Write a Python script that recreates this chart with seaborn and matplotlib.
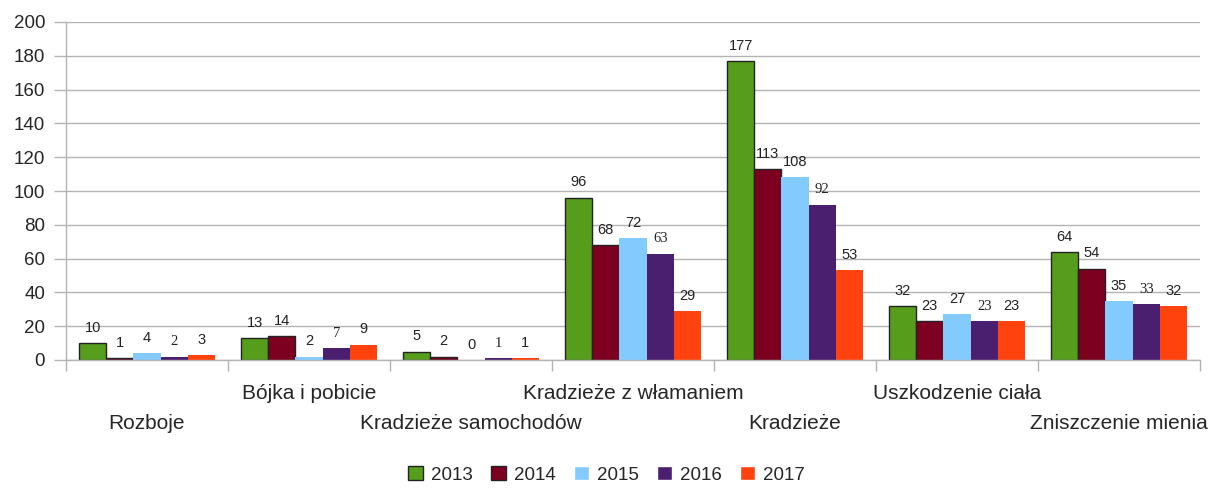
import pandas as pd
import matplotlib.pyplot as plt
import seaborn as sns

categories = ["Rozboje", "Bójka i pobicie", "Kradzieże samochodów",
              "Kradzieże z włamaniem", "Kradzieże", "Uszkodzenie ciała",
              "Zniszczenie mienia"]
years = ["2013", "2014", "2015", "2016", "2017"]
v2013 = [10, 13, 5, 96, 177, 32, 64]
v2014 = [1, 14, 2, 68, 113, 23, 54]
v2015 = [4, 2, 0, 72, 108, 27, 35]
v2016 = [2, 7, 1, 63, 92, 23, 33]
v2017 = [3, 9, 1, 29, 53, 23, 32]
colors = ["#579D1C", "#7E0021", "#83CAFF", "#4B1F6F", "#FF420E"]

rows = []
for year, vals in zip(years, [v2013, v2014, v2015, v2016, v2017]):
    for cat, v in zip(categories, vals):
        rows.append({"cat": cat, "year": year, "value": v})
df = pd.DataFrame(rows)

sns.set_theme(style="white")
plt.rcParams['font.family'] = ['Liberation Sans', 'DejaVu Sans']

fig = plt.figure(figsize=(12.13, 4.93), dpi=100)
ax = fig.add_axes([66 / 1213, 1 - 360 / 493, (1200 - 66) / 1213, (360 - 22) / 493])

sns.barplot(data=df, x="cat", y="value", hue="year", palette=colors,
            width=0.84, saturation=1, ax=ax, legend=True)

# 2013 i 2014 mają czarną obwódkę, reszta bez
for i, cont in enumerate(ax.containers):
    for bar in cont:
        if i < 2:
            bar.set_edgecolor("#222222")
            bar.set_linewidth(1)
        else:
            bar.set_linewidth(0)
    if i == 3:
        ax.bar_label(cont, padding=6, fontsize=10.5, family="Liberation Serif", color="#222222")
    else:
        ax.bar_label(cont, padding=6, fontsize=10.5, color="#222222")

ax.set_ylim(0, 200)
ax.set_xlim(-0.5, 6.5)
ax.set_yticks(range(0, 201, 20))
ax.tick_params(axis="y", labelsize=13.5, length=9, width=1, color="#b3b3b3", pad=6, left=True)
ax.yaxis.grid(True, color="#b3b3b3", linewidth=1)
ax.set_axisbelow(True)

ax.set_xticks([x - 0.5 for x in range(8)])
ax.set_xticklabels([])
ax.tick_params(axis="x", which="major", length=8, width=1, color="#b3b3b3", bottom=True)
ax.set_xticks(range(7), categories, minor=True)
ax.tick_params(axis="x", which="minor", length=0, labelsize=15)
for i, t in enumerate(ax.xaxis.get_minor_ticks()):
    t.set_pad(39 if i % 2 == 0 else 17)

ax.set_xlabel("")
ax.set_ylabel("")
for s in ["top", "right"]:
    ax.spines[s].set_visible(False)
for s in ["left", "bottom"]:
    ax.spines[s].set_color("#b3b3b3")
    ax.spines[s].set_linewidth(1)

handles, labels = ax.get_legend_handles_labels()
ax.get_legend().remove()
leg = fig.legend(handles, labels, loc="lower center", ncol=5, frameon=False,
                 fontsize=13.5, handlelength=0.8, handleheight=0.8, handletextpad=0.4,
                 columnspacing=1.0, bbox_to_anchor=(0.5, -0.015))
for h, year in zip(leg.legend_handles, labels):
    if year in ("2013", "2014"):
        h.set_edgecolor("#222222")
        h.set_linewidth(1)

fig.savefig("out.png", dpi=100)
